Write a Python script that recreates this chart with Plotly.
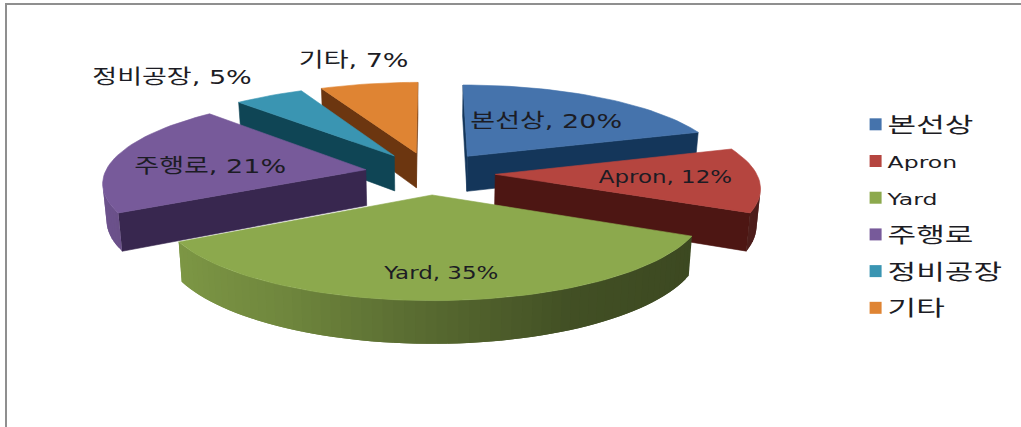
import math
import plotly.graph_objects as go

# Chart data
categories = ["본선상", "Apron", "Yard", "주행로", "정비공장", "기타"]
shares = [20, 12, 35, 21, 5, 7]
top_colors = ["#4573AC", "#B5453F", "#8CA94D", "#775A9A", "#3A95B2", "#DF8433"]
side_colors = ["#14365A", "#4D1613", "#4A5E26", "#38274F", "#0F4555", "#6C3610"]
label_xy = [(546, 121), (665, 177), (441, 273), (210, 166), (172, 77), (353, 60)]

# Camera model for the tilted, exploded pie
CX, CY = 430.0, 173.0
KX, KY = 261.0, 85.0
PERSPECTIVE = 0.134
DEPTH = 36.0
EXPLODE = 0.25
SHRINK = 0.012
FONT = "DejaVu Sans, Noto Sans CJK KR, sans-serif"

# Wall brightness against the sine of the slice angle
WALL_SINE = [-1.0, -0.5, 0.0, 0.45, 1.0]
WALL_GAIN = [0.92, 0.80, 0.62, 0.47, 0.42]

# Wide text: glyphs are stretched horizontally after the plot is drawn
WIDEN_TEXT = """
var gd = document.querySelector('.js-plotly-plot');
function widen(el, factor) {
  var w = el.getComputedTextLength();
  el.setAttribute('textLength', (w * factor).toFixed(1));
  el.setAttribute('lengthAdjust', 'spacingAndGlyphs');
}
gd.querySelectorAll('.annotation-text').forEach(function (el) { widen(el, 1.35); });
gd.querySelectorAll('.legend .scrollbox').forEach(function (el) { el.removeAttribute('clip-path'); });
gd.querySelectorAll('.legendtext').forEach(function (el) {
  var latin = /^[\\x00-\\x7f]*$/.test(el.textContent);
  el.style.fontSize = latin ? '16px' : '21px';
  el.setAttribute('x', '32');
  widen(el, latin ? 1.47 : 1.48);
});
"""


def project(u, v, lower=False):
    w = 1.0 + PERSPECTIVE * v
    px = KX * u / w
    py = -KY * v / w
    if lower:
        return CX + px * (1.0 - SHRINK), CY + py + DEPTH / w
    return CX + px, CY + py


def hex_rgb(c):
    return tuple(int(c[i:i + 2], 16) for i in (1, 3, 5))


def scaled(c, f):
    return "rgb(%d,%d,%d)" % tuple(min(255, round(x * f)) for x in hex_rgb(c))


def wall_gain(s):
    for j in range(len(WALL_SINE) - 1):
        if s <= WALL_SINE[j + 1]:
            t = (s - WALL_SINE[j]) / (WALL_SINE[j + 1] - WALL_SINE[j])
            return WALL_GAIN[j] + t * (WALL_GAIN[j + 1] - WALL_GAIN[j])
    return WALL_GAIN[-1]


def shoelace(pts):
    return sum(pts[i][0] * pts[(i + 1) % len(pts)][1] - pts[(i + 1) % len(pts)][0] * pts[i][1]
               for i in range(len(pts)))


def polygon(pts, color, edge=0.6):
    xs = [p[0] for p in pts] + [pts[0][0]]
    ys = [p[1] for p in pts] + [pts[0][1]]
    return go.Scatter(x=xs, y=ys, mode="lines", fill="toself", fillcolor=color,
                      line=dict(color=color, width=edge), hoverinfo="skip", showlegend=False)


fig = go.Figure()

# Angular extent of every slice, clockwise from twelve o'clock
total = sum(shares)
extents = []
running = 0.0
for s in shares:
    start = running / total * 2 * math.pi
    running += s
    extents.append((start, running / total * 2 * math.pi))

# Slices are painted from back to front
for i in [5, 4, 3, 0, 1, 2]:
    a0, a1 = extents[i]
    mid = (a0 + a1) / 2
    ou, ov = EXPLODE * math.sin(mid), EXPLODE * math.cos(mid)
    steps = max(4, int((a1 - a0) / math.radians(2)))
    rim = [(ou + math.sin(a0 + (a1 - a0) * k / steps), ov + math.cos(a0 + (a1 - a0) * k / steps))
           for k in range(steps + 1)]

    # Flat faces along the two radii
    for p, q in [((ou, ov), rim[0]), (rim[-1], (ou, ov))]:
        quad = [project(*p), project(*q), project(*q, lower=True), project(*p, lower=True)]
        if shoelace(quad) < 0:
            fig.add_trace(polygon(quad, side_colors[i]))

    # Curved outer wall; each band overlaps the next one so no seams show
    for k in range(steps):
        end = rim[min(k + 2, steps)]
        quad = [project(*rim[k]), project(*end), project(*end, lower=True),
                project(*rim[k], lower=True)]
        if shoelace(quad) < 0:
            ang = a0 + (a1 - a0) * (k + 0.5) / steps
            fig.add_trace(polygon(quad, scaled(top_colors[i], wall_gain(math.sin(ang))), edge=0))

    # Upper surface
    fig.add_trace(polygon([project(ou, ov)] + [project(*p) for p in rim], top_colors[i]))

# Legend entries, one group each so the rows can be spaced apart
for name, color in zip(categories, top_colors):
    fig.add_trace(go.Scatter(x=[None], y=[None], mode="markers", name=name, legendgroup=name,
                             marker=dict(symbol="square", size=12, color=color)))

for name, share, (lx, ly) in zip(categories, shares, label_xy):
    fig.add_annotation(x=lx, y=ly, text=f"{name}, {share}%", showarrow=False,
                       font=dict(family=FONT, size=17 if name.isascii() else 20, color="#1c1c24"))

frame = dict(color="#8f8f8f", width=2)
fig.add_shape(type="line", x0=6, x1=6, y0=3, y1=427, line=frame)
fig.add_shape(type="line", x0=5, x1=1021, y0=4, y1=4, line=frame)

fig.update_layout(
    width=1021, height=427, margin=dict(l=0, r=0, t=0, b=0),
    paper_bgcolor="white", plot_bgcolor="white",
    xaxis=dict(range=[0, 1021], visible=False, fixedrange=True),
    yaxis=dict(range=[427, 0], visible=False, fixedrange=True),
    legend=dict(x=0.838, y=0.753, xanchor="left", yanchor="top", bgcolor="rgba(0,0,0,0)",
                font=dict(family=FONT, size=19, color="#1c1c24"),
                tracegroupgap=9, itemclick=False, itemdoubleclick=False),
)

fig.write_html("out.html", config=dict(displayModeBar=False), post_script=WIDEN_TEXT)
